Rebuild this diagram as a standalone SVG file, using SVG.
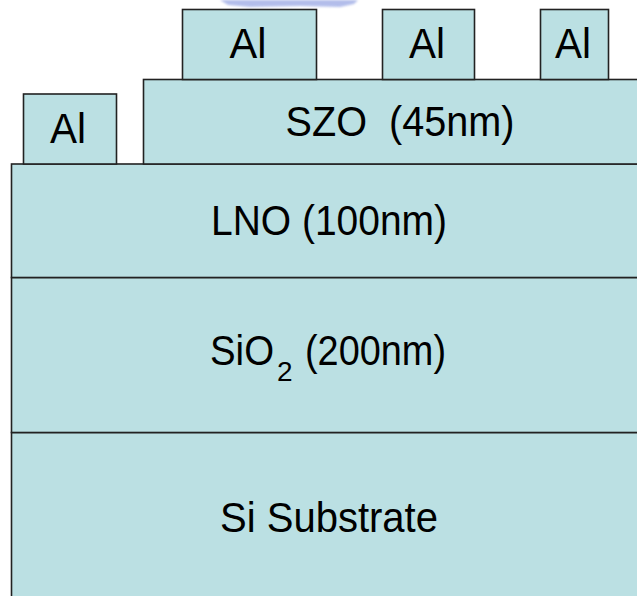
<svg xmlns="http://www.w3.org/2000/svg" width="637" height="596" viewBox="0 0 637 596">
  <style>
    .layer { fill: #BBE0E3; stroke: #222; stroke-width: 1.6; }
    .lbl { font-family: "Liberation Sans", Arial, sans-serif; font-size: 42px; fill: #000; }
    .mid { text-anchor: middle; }
  </style>
  <defs>
    <filter id="blur" x="-10%" y="-50%" width="120%" height="200%">
      <feGaussianBlur stdDeviation="1.2"/>
    </filter>
  </defs>
  <rect x="0" y="0" width="637" height="596" fill="#ffffff"/>
  <!-- watermark fragment -->
  <path d="M220,0 L358,0 L354,4 L340,7 L300,6 L250,7 L228,5 Z" fill="#9aa8e4" opacity="0.75" filter="url(#blur)"/>

  <g id="si-substrate">
    <rect class="layer" x="11.5" y="432.5" width="640" height="180"/>
    <text class="lbl mid" x="329" y="532" textLength="218" lengthAdjust="spacingAndGlyphs">Si Substrate</text>
  </g>
  <g id="sio2">
    <rect class="layer" x="11.5" y="277.5" width="640" height="155"/>
    <text class="lbl" y="365"><tspan x="210" textLength="64" lengthAdjust="spacingAndGlyphs">SiO</tspan><tspan x="277" y="381" style="font-size:28px">2</tspan><tspan x="305" y="365" textLength="141" lengthAdjust="spacingAndGlyphs">(200nm)</tspan></text>
  </g>
  <g id="lno">
    <rect class="layer" x="11.5" y="164" width="640" height="113.5"/>
    <text class="lbl mid" x="329" y="235" textLength="236" lengthAdjust="spacingAndGlyphs">LNO (100nm)</text>
  </g>
  <g id="szo">
    <rect class="layer" x="143.5" y="79.5" width="500" height="84.5"/>
    <text class="lbl mid" x="400" y="136" textLength="229" lengthAdjust="spacingAndGlyphs" style="white-space:pre">SZO  (45nm)</text>
  </g>
  <g id="al-left">
    <rect class="layer" x="23.5" y="94" width="93" height="70"/>
    <text class="lbl mid" x="68" y="143" textLength="36" lengthAdjust="spacingAndGlyphs">Al</text>
  </g>
  <g id="al-1">
    <rect class="layer" x="182.5" y="9.5" width="134" height="70"/>
    <text class="lbl mid" x="248" y="58" textLength="37" lengthAdjust="spacingAndGlyphs">Al</text>
  </g>
  <g id="al-2">
    <rect class="layer" x="382.5" y="9.5" width="92" height="70"/>
    <text class="lbl mid" x="427" y="58" textLength="36" lengthAdjust="spacingAndGlyphs">Al</text>
  </g>
  <g id="al-3">
    <rect class="layer" x="540.5" y="9.5" width="68" height="70"/>
    <text class="lbl mid" x="573" y="58" textLength="36" lengthAdjust="spacingAndGlyphs">Al</text>
  </g>
  <g id="connectors"></g>
</svg>
